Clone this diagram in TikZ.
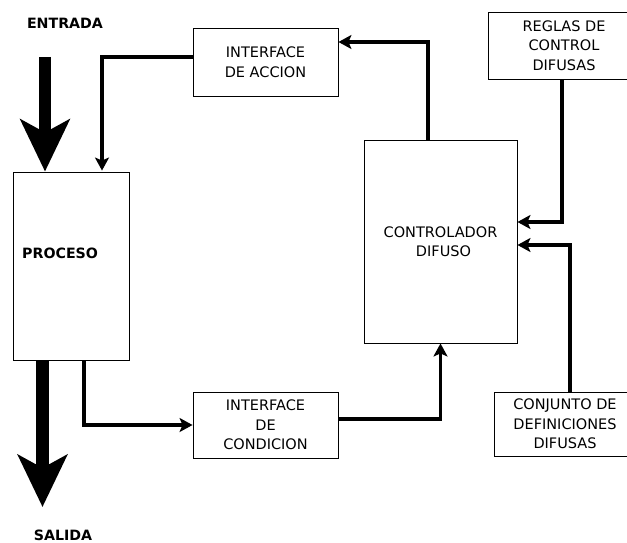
\documentclass[tikz,border=0pt]{standalone}
\usepackage{fontspec}
\setmainfont{DejaVu Sans}
\usetikzlibrary{arrows.meta}
\begin{document}
\begin{tikzpicture}[x=1pt,y=-1pt,
  box/.style={draw=black, line width=0.9pt, inner sep=0pt, align=center,
    font=\fontsize{14.5}{19.5}\selectfont},
  conn/.style={line width=3.6pt, -{Stealth[length=13pt,width=14pt,inset=3pt]}},
  bigarrow/.style={line width=12.5pt, -{Stealth[length=52pt,width=49pt,inset=13pt]}},
  lbl/.style={font=\fontsize{14.2}{16}\selectfont\bfseries, inner sep=0pt}]
\useasboundingbox (0,0) rectangle (627,543);
% boxes
\node[box, minimum width=116pt, minimum height=188pt] (proc) at (71,266) {};
\node[box, minimum width=145pt, minimum height=68pt] (accion) at (265.5,62) {INTERFACE\\DE ACCION};
\node[box, minimum width=145pt, minimum height=66pt] (cond) at (265.5,425) {INTERFACE\\DE\\CONDICION};
\node[box, minimum width=153pt, minimum height=203pt] (ctrl) at (440.5,241.5) {CONTROLADOR\\\hspace*{6pt}DIFUSO};
\node[box, minimum width=152pt, minimum height=67pt] (reglas) at (564,45.5) {REGLAS DE\\CONTROL\\DIFUSAS};
\node[box, minimum width=142pt, minimum height=64pt] (conj) at (565,424) {CONJUNTO DE\\DEFINICIONES\\DIFUSAS};
% labels
\node[lbl] (proctext) at (22,253) [anchor=west] {PROCESO};
\node[lbl] (entrada) at (65,23) {ENTRADA};
\node[lbl] (salida) at (63,535) {SALIDA};
% big arrows
\coordinate (ein) at (45,57);
\coordinate (eout) at (42.5,507);
\draw[bigarrow] (ein) -- (ein |- proc.north);
\draw[bigarrow] (eout |- proc.south) -- (eout);
% connectors
\coordinate (fbx) at (102,0);
\draw[conn] ([yshift=5pt]accion.west) -| ([yshift=1pt]fbx |- proc.north);
\draw[conn] ([xshift=-12.5pt]ctrl.north) |- ([yshift=20pt]accion.east);
\draw[conn] ([xshift=13pt]proc.south) |- (cond.west);
\draw[conn] ([yshift=6pt]cond.east) -| (ctrl.south);
\draw[conn] ([xshift=-2pt]reglas.south) |- ([yshift=19.5pt]ctrl.east);
\draw[conn] ([xshift=5pt]conj.north) |- ([yshift=-3.5pt]ctrl.east);
\end{tikzpicture}
\end{document}
